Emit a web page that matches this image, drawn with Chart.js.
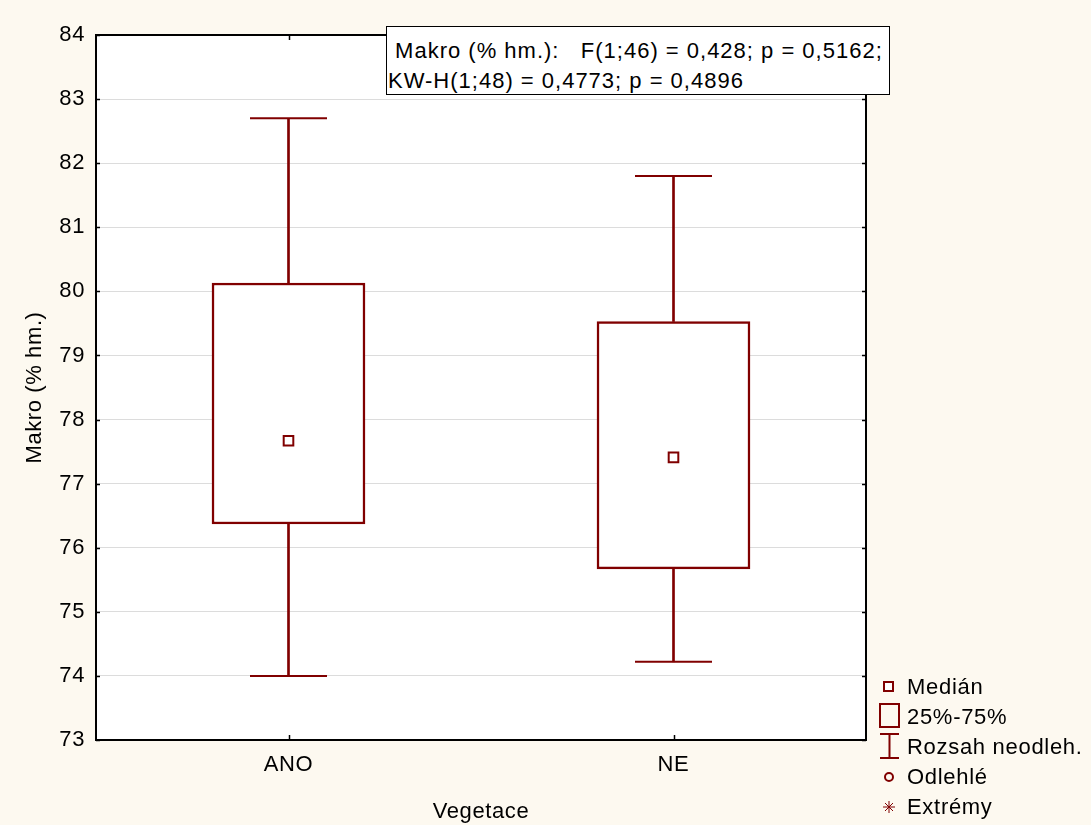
<!DOCTYPE html>
<html>
<head>
<meta charset="utf-8">
<script src="https://cdn.jsdelivr.net/npm/chart.js@4"></script>
<style>
  html, body { margin: 0; padding: 0; background: #fdf9f0; }
  body { width: 1091px; height: 825px; position: relative; overflow: hidden;
         font-family: 'Liberation Sans', Arial, sans-serif; color: #000; }
  #chart { position: absolute; left: 0; top: 0; }
  .note { position: absolute; left: 386px; top: 26px; width: 504px; height: 69px;
          background: #fff; border: 1.5px solid #000; font-size: 22px; line-height: 30px;
          letter-spacing: 1px; white-space: pre; padding: 9px 0 0 1px; box-sizing: border-box; }
  .legend { position: absolute; left: 878px; top: 672px; font-size: 22px; letter-spacing: 0.7px; }
  .legend .item { position: absolute; left: 0; height: 30px; width: 212px; }
  .legend svg { position: absolute; left: 0; top: 0; }
  .legend span { position: absolute; left: 29px; top: 2px; white-space: nowrap; }
</style>
</head>
<body>
<canvas id="chart" width="1091" height="825"></canvas>
<div class="note"> Makro (% hm.):   F(1;46) = 0,428; p = 0,5162;
KW-H(1;48) = 0,4773; p = 0,4896</div>
<div class="legend">
  <div class="item" style="top:0px"><svg width="24" height="30"><rect x="6" y="10" width="9" height="9" fill="#fff" stroke="#800000" stroke-width="2"/></svg><span>Medián</span></div>
  <div class="item" style="top:30px"><svg width="24" height="30"><rect x="2" y="2" width="19" height="23" fill="none" stroke="#800000" stroke-width="2"/></svg><span>25%-75%</span></div>
  <div class="item" style="top:60px"><svg width="24" height="30"><path d="M2 2 H21 M11.5 2 V26 M2 26 H21" fill="none" stroke="#800000" stroke-width="2"/></svg><span>Rozsah neodleh.</span></div>
  <div class="item" style="top:90px"><svg width="24" height="30"><circle cx="11" cy="15" r="4" fill="none" stroke="#800000" stroke-width="2"/></svg><span>Odlehlé</span></div>
  <div class="item" style="top:120px"><svg width="24" height="30"><path d="M5 15 H17 M11 9 V21 M7 11 L15 19 M15 11 L7 19" fill="none" stroke="#800000" stroke-width="1"/></svg><span>Extrémy</span></div>
</div>
<script>
// data
const categories = ['ANO', 'NE'];
const medians = [77.67, 77.41];
const q1 = [76.37, 75.67];
const q3 = [80.13, 79.53];
const whiskerMin = [74.0, 74.22];
const whiskerMax = [82.7, 81.8];
const yTicks = [73, 74, 75, 76, 77, 78, 79, 80, 81, 82, 83, 84];

const boxColor = '#800000';
const font = { family: "'Liberation Sans', Arial, sans-serif", size: 22 };

const ctx = document.getElementById('chart').getContext('2d');

// white plot area + black frame + short inner ticks
const frame = {
    id: 'frame',
    beforeDraw(chart) {
        const a = chart.chartArea;
        const c = chart.ctx;
        c.save();
        c.fillStyle = '#fff';
        c.fillRect(a.left, a.top, a.right - a.left, a.bottom - a.top);
        c.restore();
        c.letterSpacing = '0.6px';
    },
    afterDraw(chart) {
        const a = chart.chartArea;
        const c = chart.ctx;
        const y = chart.scales.y;
        const x = chart.scales.x;
        c.save();
        c.strokeStyle = '#000';
        c.lineWidth = 2;
        c.strokeRect(a.left, a.top, a.right - a.left, a.bottom - a.top);
        c.beginPath();
        yTicks.forEach(v => {
            const p = Math.round(y.getPixelForValue(v)) + 0.5;
            c.moveTo(a.left, p); c.lineTo(a.left + 4, p);
            c.moveTo(a.right, p); c.lineTo(a.right - 4, p);
        });
        categories.forEach((cat, i) => {
            const p = Math.round(x.getPixelForValue(i)) + 0.5;
            c.moveTo(p, a.bottom); c.lineTo(p, a.bottom - 5);
            c.moveTo(p, a.top); c.lineTo(p, a.top + 5);
        });
        c.lineWidth = 1.5;
        c.stroke();
        c.restore();
    }
};

const chart = new Chart(ctx, {
    type: 'bar',
    data: {
        labels: categories,
        datasets: [
            {
                label: 'box',
                data: categories.map((c, i) => [q1[i], q3[i]]),
                backgroundColor: '#fff',
                borderColor: boxColor,
                borderWidth: 2.5,
                borderSkipped: false,
                barThickness: 153,
                grouped: false,
                order: 2
            },
            {
                label: 'upper',
                data: categories.map((c, i) => [q3[i], whiskerMax[i]]),
                backgroundColor: boxColor,
                borderWidth: 0,
                barThickness: 2,
                grouped: false,
                order: 3
            },
            {
                label: 'lower',
                data: categories.map((c, i) => [whiskerMin[i], q1[i]]),
                backgroundColor: boxColor,
                borderWidth: 0,
                barThickness: 2,
                grouped: false,
                order: 3
            },
            {
                type: 'line',
                label: 'max',
                data: whiskerMax,
                showLine: false,
                pointStyle: 'line',
                pointRadius: 38.5,
                pointBorderWidth: 2,
                pointBorderColor: boxColor,
                order: 1
            },
            {
                type: 'line',
                label: 'min',
                data: whiskerMin,
                showLine: false,
                pointStyle: 'line',
                pointRadius: 38.5,
                pointBorderWidth: 2,
                pointBorderColor: boxColor,
                order: 1
            },
            {
                type: 'line',
                label: 'median',
                data: medians,
                showLine: false,
                pointStyle: 'rect',
                pointRadius: 6.8,
                pointBorderWidth: 2,
                pointBorderColor: boxColor,
                pointBackgroundColor: '#fff',
                order: 0
            }
        ]
    },
    options: {
        responsive: false,
        animation: false,
        events: [],
        layout: { autoPadding: false, padding: { left: 0, top: 35, right: 225, bottom: 0 } },
        plugins: { legend: { display: false }, tooltip: { enabled: false } },
        scales: {
            x: {
                offset: true,
                grid: { display: false, drawTicks: false },
                border: { display: false },
                ticks: { color: '#000', font: font, padding: 12 },
                title: { display: true, text: 'Vegetace', color: '#000', font: font, padding: { top: 3, bottom: 0 } },
                afterFit(scale) { scale.height = 85; }
            },
            y: {
                min: 73,
                max: 84,
                afterBuildTicks(scale) { scale.ticks = yTicks.map(v => ({ value: v })); },
                grid: { color: '#dcdcdc', lineWidth: 1, drawTicks: false },
                border: { display: false },
                ticks: { color: '#000', font: font, padding: 11 },
                title: { display: true, text: 'Makro (% hm.)', color: '#000', font: font, padding: { top: 22, bottom: 0 } },
                afterFit(scale) { scale.width = 96; }
            }
        }
    },
    plugins: [frame]
});
</script>
</body>
</html>
